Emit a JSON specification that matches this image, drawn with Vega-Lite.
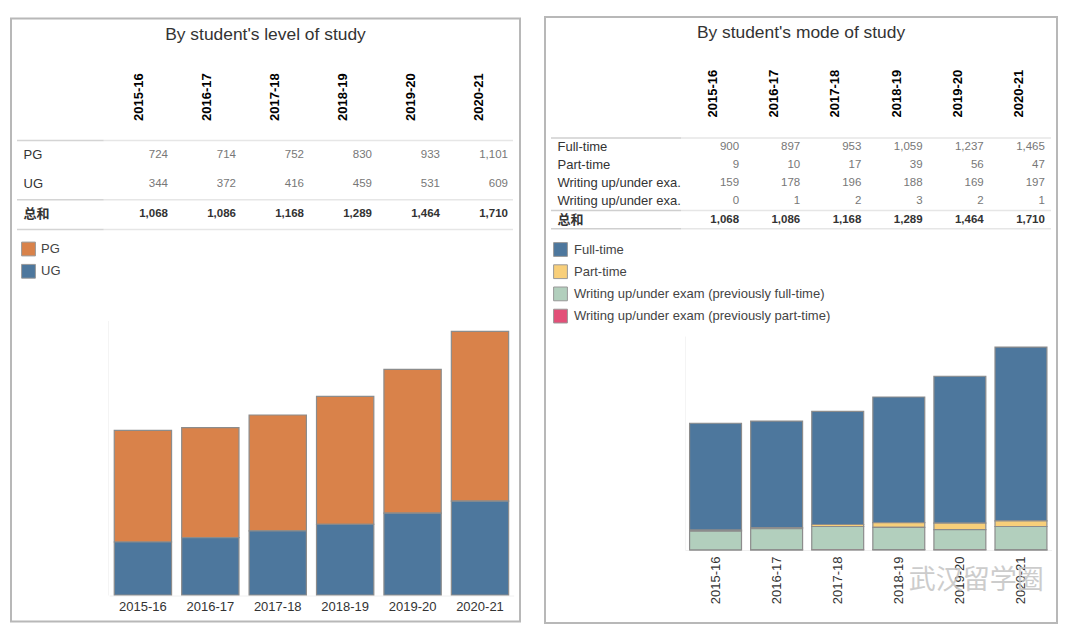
{
"$schema":"https://vega.github.io/schema/vega-lite/v6.json",
"background":"white",
"padding":{"left":10,"top":16,"right":0,"bottom":0},
"datasets":{
"level":[
{"year":"2015-16","row":"PG","value":724},{"year":"2016-17","row":"PG","value":714},{"year":"2017-18","row":"PG","value":752},{"year":"2018-19","row":"PG","value":830},{"year":"2019-20","row":"PG","value":933},{"year":"2020-21","row":"PG","value":1101},
{"year":"2015-16","row":"UG","value":344},{"year":"2016-17","row":"UG","value":372},{"year":"2017-18","row":"UG","value":416},{"year":"2018-19","row":"UG","value":459},{"year":"2019-20","row":"UG","value":531},{"year":"2020-21","row":"UG","value":609},
{"year":"2015-16","row":"总和","value":1068},{"year":"2016-17","row":"总和","value":1086},{"year":"2017-18","row":"总和","value":1168},{"year":"2018-19","row":"总和","value":1289},{"year":"2019-20","row":"总和","value":1464},{"year":"2020-21","row":"总和","value":1710}],
"mode":[
{"year":"2015-16","row":"Full-time","value":900},{"year":"2016-17","row":"Full-time","value":897},{"year":"2017-18","row":"Full-time","value":953},{"year":"2018-19","row":"Full-time","value":1059},{"year":"2019-20","row":"Full-time","value":1237},{"year":"2020-21","row":"Full-time","value":1465},
{"year":"2015-16","row":"Part-time","value":9},{"year":"2016-17","row":"Part-time","value":10},{"year":"2017-18","row":"Part-time","value":17},{"year":"2018-19","row":"Part-time","value":39},{"year":"2019-20","row":"Part-time","value":56},{"year":"2020-21","row":"Part-time","value":47},
{"year":"2015-16","row":"Writing up/under exam (previously full-time)","value":159},{"year":"2016-17","row":"Writing up/under exam (previously full-time)","value":178},{"year":"2017-18","row":"Writing up/under exam (previously full-time)","value":196},{"year":"2018-19","row":"Writing up/under exam (previously full-time)","value":188},{"year":"2019-20","row":"Writing up/under exam (previously full-time)","value":169},{"year":"2020-21","row":"Writing up/under exam (previously full-time)","value":197},
{"year":"2015-16","row":"Writing up/under exam (previously part-time)","value":0},{"year":"2016-17","row":"Writing up/under exam (previously part-time)","value":1},{"year":"2017-18","row":"Writing up/under exam (previously part-time)","value":2},{"year":"2018-19","row":"Writing up/under exam (previously part-time)","value":3},{"year":"2019-20","row":"Writing up/under exam (previously part-time)","value":2},{"year":"2020-21","row":"Writing up/under exam (previously part-time)","value":1},
{"year":"2015-16","row":"总和","value":1068},{"year":"2016-17","row":"总和","value":1086},{"year":"2017-18","row":"总和","value":1168},{"year":"2018-19","row":"总和","value":1289},{"year":"2019-20","row":"总和","value":1464},{"year":"2020-21","row":"总和","value":1710}],
"levelLines":[
{"edge":"e0","start":0,"end":0.175,"tone":"label"},{"edge":"e0","start":0.175,"end":1,"tone":"body"},
{"edge":"e2","start":0,"end":0.175,"tone":"label"},{"edge":"e2","start":0.175,"end":1,"tone":"body"},
{"edge":"e3","start":0,"end":0.175,"tone":"label"},{"edge":"e3","start":0.175,"end":1,"tone":"body"}],
"modeLines":[
{"edge":"e0","start":0,"end":0.26,"tone":"label"},{"edge":"e0","start":0.26,"end":1,"tone":"body"},
{"edge":"e4","start":0,"end":0.26,"tone":"label"},{"edge":"e4","start":0.26,"end":1,"tone":"body"},
{"edge":"e5","start":0,"end":0.26,"tone":"label"},{"edge":"e5","start":0.26,"end":1,"tone":"body"}],
"mark":[{"year":"2019-20","row":"wm","label":"武汉留学圈"}]
},
"hconcat":[
{
"width":509,"height":603,
"title":{"text":"By student's level of study","offset":-25,"fontSize":17.4,"fontWeight":"normal","color":"#333333","font":"Liberation Sans","anchor":"middle"},
"resolve":{"scale":{"x":"independent","y":"independent"},"axis":{"x":"independent","y":"independent"}},
"layer":[
{"data":{"name":"levelLines"},"mark":{"type":"rule","strokeWidth":1.5},
"encoding":{
"x":{"field":"start","type":"quantitative","scale":{"domain":[0,1],"range":[6,502]},"axis":null},
"x2":{"field":"end"},
"y":{"field":"edge","type":"nominal","scale":{"type":"point","padding":0,"domain":["e0","e1","e2","e3"],"range":[122,211]},"axis":null},
"stroke":{"field":"tone","type":"nominal","scale":{"domain":["label","body"],"range":["#d4d4d4","#e6e6e6"]},"legend":null}}},
{"data":{"name":"level"},"transform":[{"filter":"datum.row!=='总和'"}],"mark":{"type":"bar","stroke":"#8c8c8c","strokeWidth":1.2},
"encoding":{
"x":{"field":"year","type":"nominal","scale":{"type":"band","paddingInner":0.15,"paddingOuter":0.075,"range":[98.2,502.7]},
"axis":{"orient":"bottom","offset":-26,"title":null,"labelAngle":0,"labelFontSize":13,"labelColor":"#333333","labelFont":"Liberation Sans","domainColor":"#f0f0f0","ticks":false,"labelPadding":5}},
"y":{"field":"value","type":"quantitative","scale":{"domain":[0,1781],"nice":false,"range":[576.5,302]},
"axis":{"orient":"left","offset":-97,"title":null,"labels":false,"ticks":false,"grid":false,"domainColor":"#f4f4f4"}},
"color":{"field":"row","type":"nominal","scale":{"domain":["PG","UG"],"range":["#d9824a","#4d779d"]},
"legend":{"title":null,"orient":"none","legendX":10,"legendY":223,"symbolType":"square","symbolSize":190,"symbolStrokeColor":"#999999","symbolStrokeWidth":1,"symbolOpacity":1,"labelFontSize":13,"labelColor":"#444444","labelFont":"Liberation Sans","rowPadding":3.3,"labelOffset":5}}}},
{"data":{"name":"level"},"transform":[{"filter":"datum.row!=='总和'"}],"mark":{"type":"text","align":"right","baseline":"middle","xOffset":29,"font":"Liberation Sans","fontSize":11.5,"color":"#777777"},
"encoding":{
"x":{"field":"year","type":"nominal","scale":{"type":"band","paddingInner":0.15,"paddingOuter":0.075,"range":[94,502]},
"axis":{"orient":"top","offset":-102,"title":null,"labelAngle":270,"labelFontSize":13,"labelFontWeight":"bold","labelColor":"#000000","labelFont":"Liberation Sans","domain":false,"ticks":false,"labelPadding":0,"labelOffset":-0.5}},
"y":{"field":"row","type":"nominal","scale":{"type":"band","paddingInner":0,"paddingOuter":0,"domain":["PG","UG","总和"],"range":[121.5,210]},
"axis":{"orient":"left","offset":-12,"title":null,"domain":false,"ticks":false,"labelPadding":0,"labelAlign":"left","labelFontSize":13,"labelColor":"#333333","labelFont":"Liberation Sans, Noto Sans CJK SC","labelFontWeight":{"condition":{"test":"datum.value==='总和'","value":"bold"},"value":"normal"}}},
"text":{"field":"value","type":"quantitative","format":","}}},
{"data":{"name":"level"},"transform":[{"filter":"datum.row==='总和'"}],"mark":{"type":"text","align":"right","baseline":"middle","xOffset":29,"font":"Liberation Sans","fontSize":11.5,"fontWeight":"bold","color":"#333333"},
"encoding":{
"x":{"field":"year","type":"nominal","scale":{"type":"band","paddingInner":0.15,"paddingOuter":0.075,"range":[94,502]},"axis":null},
"y":{"field":"row","type":"nominal","scale":{"type":"band","paddingInner":0,"paddingOuter":0,"domain":["PG","UG","总和"],"range":[121.5,210]},"axis":null},
"text":{"field":"value","type":"quantitative","format":","}}}
]},
{
"width":512,"height":606,
"title":{"text":"By student's mode of study","offset":-24,"fontSize":17.4,"fontWeight":"normal","color":"#333333","font":"Liberation Sans","anchor":"middle"},
"resolve":{"scale":{"x":"independent","y":"independent"},"axis":{"x":"independent","y":"independent"}},
"layer":[
{"data":{"name":"modeLines"},"mark":{"type":"rule","strokeWidth":1.5},
"encoding":{
"x":{"field":"start","type":"quantitative","scale":{"domain":[0,1],"range":[6,506]},"axis":null},
"x2":{"field":"end"},
"y":{"field":"edge","type":"nominal","scale":{"type":"point","padding":0,"domain":["e0","e1","e2","e3","e4","e5"],"range":[121,211.7]},"axis":null},
"stroke":{"field":"tone","type":"nominal","scale":{"domain":["label","body"],"range":["#cfcfcf","#e6e6e6"]},"legend":null}}},
{"data":{"name":"mode"},"transform":[{"filter":"datum.row!=='总和'"}],"mark":{"type":"bar","stroke":"#8c8c8c","strokeWidth":1.2},
"encoding":{
"x":{"field":"year","type":"nominal","scale":{"type":"band","paddingInner":0.15,"paddingOuter":0.075,"range":[140,506.5]},
"axis":{"orient":"bottom","offset":-73,"title":null,"labelAngle":270,"labelFontSize":13,"labelColor":"#333333","labelFont":"Liberation Sans","domainColor":"#f0f0f0","ticks":false,"labelPadding":6}},
"y":{"field":"value","type":"quantitative","scale":{"domain":[0,1803],"nice":false,"range":[533,319]},
"axis":{"orient":"left","offset":-140,"title":null,"labels":false,"ticks":false,"grid":false,"domainColor":"#f4f4f4"}},
"color":{"field":"row","type":"nominal","scale":{"domain":["Full-time","Part-time","Writing up/under exam (previously full-time)","Writing up/under exam (previously part-time)"],"range":["#4d779d","#f8cf7a","#b2cfbd","#e34f78"]},
"legend":{"title":null,"orient":"none","legendX":8,"legendY":225,"symbolType":"square","symbolSize":190,"symbolStrokeColor":"#999999","symbolStrokeWidth":1,"symbolOpacity":1,"labelFontSize":13,"labelLimit":400,"labelColor":"#444444","labelFont":"Liberation Sans","rowPadding":3.2,"labelOffset":6}}}},
{"data":{"name":"mode"},"transform":[{"filter":"datum.row!=='总和'"}],"mark":{"type":"text","align":"right","baseline":"middle","xOffset":23.5,"font":"Liberation Sans","fontSize":11.5,"color":"#777777"},
"encoding":{
"x":{"field":"year","type":"nominal","scale":{"type":"band","paddingInner":0.15,"paddingOuter":0.075,"range":[140,507]},
"axis":{"orient":"top","offset":-100,"title":null,"labelAngle":270,"labelFontSize":13,"labelFontWeight":"bold","labelColor":"#000000","labelFont":"Liberation Sans","domain":false,"ticks":false,"labelPadding":0,"labelOffset":-2.5}},
"y":{"field":"row","type":"nominal","scale":{"type":"band","paddingInner":0,"paddingOuter":0,"domain":["Full-time","Part-time","Writing up/under exam (previously full-time)","Writing up/under exam (previously part-time)","总和"],"range":[121,211.7]},
"axis":{"orient":"left","offset":-12,"title":null,"domain":false,"ticks":false,"labelPadding":0,"labelAlign":"left","labelFontSize":13,"labelLimit":200,"labelColor":"#333333","labelFont":"Liberation Sans, Noto Sans CJK SC","labelExpr":"length(datum.label)>20 ? slice(datum.label,0,20)+'.' : datum.label","labelFontWeight":{"condition":{"test":"datum.value==='总和'","value":"bold"},"value":"normal"}}},
"text":{"field":"value","type":"quantitative","format":","}}},
{"data":{"name":"mode"},"transform":[{"filter":"datum.row==='总和'"}],"mark":{"type":"text","align":"right","baseline":"middle","xOffset":23.5,"font":"Liberation Sans","fontSize":11.5,"fontWeight":"bold","color":"#333333"},
"encoding":{
"x":{"field":"year","type":"nominal","scale":{"type":"band","paddingInner":0.15,"paddingOuter":0.075,"range":[140,507]},"axis":null},
"y":{"field":"row","type":"nominal","scale":{"type":"band","paddingInner":0,"paddingOuter":0,"domain":["Full-time","Part-time","Writing up/under exam (previously full-time)","Writing up/under exam (previously part-time)","总和"],"range":[121,211.7]},"axis":null},
"text":{"field":"value","type":"quantitative","format":","}}},
{"data":{"name":"mark"},"mark":{"type":"text","align":"center","baseline":"middle","xOffset":16,"font":"Noto Sans CJK SC","fontSize":27,"color":"#c4c4c4","opacity":0.85},
"encoding":{
"x":{"field":"year","type":"nominal","scale":{"type":"band","paddingInner":0.15,"paddingOuter":0.075,"domain":["2015-16","2016-17","2017-18","2018-19","2019-20","2020-21"],"range":[140,507]},"axis":null},
"y":{"field":"row","type":"nominal","scale":{"type":"point","padding":0,"domain":["wm"],"range":[564,564]},"axis":null},
"text":{"field":"label","type":"nominal"}}}
]}
],
"spacing":23,
"center":true,
"resolve":{"scale":{"color":"independent","stroke":"independent"}},
"config":{"view":{"stroke":"#b8b8b8","strokeWidth":2,"fill":"white"},"legend":{"symbolBaseFillColor":"transparent"}}
}
